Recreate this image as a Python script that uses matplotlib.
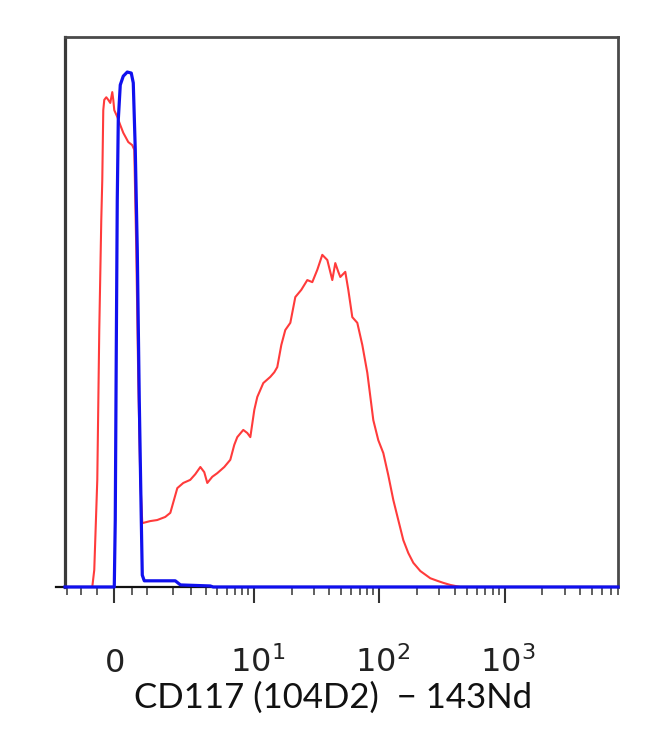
import matplotlib
matplotlib.use("Agg")
import matplotlib.pyplot as plt
from matplotlib import font_manager

# CD117 (104D2) - 143Nd histogram, arcsinh x axis, y = % of max
blue_x = [-1.6, 0.0, 0.028, 0.057, 0.085, 0.114, 0.171, 0.257, 0.373, 0.491, 0.551,
          0.612, 0.643, 0.674, 0.736, 0.800, 0.832, 0.897, 2.12, 2.38, 4.38, 4.63, 8000]
blue_y = [0, 0, 13.0, 46.0, 75.1, 90.7, 97.5, 99.2, 100, 99.8, 97.9,
          84.9, 75.1, 65.4, 36.3, 13.0, 2.3, 1.2, 1.2, 0.4, 0.2, 0, 0]

red_x = [-1.6, -0.643, -0.582, -0.491, -0.432, -0.373, -0.344, -0.315, -0.286, -0.228,
         -0.171, -0.114, -0.057, -0.028, 0.0, 0.085, 0.171, 0.257, 0.403, 0.521,
         0.582, 0.643, 0.705, 0.768, 0.832, 1.10, 1.35, 1.67, 1.89, 2.22,
         2.53, 2.93, 3.25, 3.60, 3.89, 4.13, 4.55, 5.01, 5.73, 6.42,
         6.92, 7.32, 8.19, 8.83, 9.34, 10.06, 10.63, 11.88, 13.52, 14.56,
         15.38, 16.57, 17.83, 19.56, 21.44, 23.93, 26.72, 29.30, 32.12, 35.20,
         38.60, 42.30, 44.69, 47.23, 49.00, 53.69, 56.75, 61.07, 66.94, 73.38,
         80.43, 89.79, 98.41, 107.9, 118.2, 129.6, 142.0, 155.7, 170.6, 187.0,
         212.7, 255.4, 290.5, 324.3, 368.7, 443.0, 8000]
red_y = [0, 0, 3.3, 20.8, 49.9, 71.3, 79.0, 92.6, 94.6, 95.1,
         94.6, 94.0, 96.1, 94.6, 92.6, 91.3, 89.7, 88.2, 86.4, 85.8,
         84.9, 65.4, 40.2, 20.8, 12.4, 12.8, 13.0, 13.6, 14.4, 19.2,
         20.2, 20.8, 21.9, 23.3, 22.3, 20.2, 21.4, 22.1, 23.3, 24.7,
         27.6, 29.1, 30.5, 29.9, 29.1, 34.4, 36.9, 39.6, 40.8, 41.7,
         42.7, 47.0, 49.9, 51.3, 56.3, 57.7, 59.6, 59.2, 61.6, 64.5,
         63.5, 59.6, 62.9, 61.2, 60.2, 61.2, 57.7, 52.4, 51.3, 47.0,
         41.6, 32.4, 28.5, 26.0, 21.7, 16.9, 13.0, 9.1, 6.6, 4.7,
         3.1, 1.7, 1.2, 0.8, 0.4, 0, 0]

major_ticks = [0, 10, 100, 1000]
major_labels = ["$0$", r"$\;10^{1}$", r"$\;10^{2}$", r"$\;10^{3}$"]
minor_ticks = ([-1.5, -1, -0.5, 0.5, 1] + list(range(2, 10)) + list(range(20, 100, 10))
               + list(range(200, 1000, 100)) + list(range(2000, 9000, 1000)))

x_label = "CD117 (104D2)  \u2212 143Nd"

installed = {f.name for f in font_manager.fontManager.ttflist}
tick_font = "Liberation Sans Narrow" if "Liberation Sans Narrow" in installed else "Liberation Sans"
plt.rcParams["mathtext.fontset"] = "custom"
plt.rcParams["mathtext.rm"] = tick_font
plt.rcParams["mathtext.it"] = tick_font
plt.rcParams["mathtext.default"] = "regular"

fig = plt.figure(figsize=(6.5, 7.33), dpi=100)
ax = fig.add_axes([0.1, 0.1992, 0.8508, 0.7503])
ax.set_xscale("asinh", linear_width=1.55)

ax.plot(red_x, red_y, color="#ff3b3b", lw=1.5, clip_on=False, zorder=3)
ax.plot(blue_x, blue_y, color="#1010ee", lw=2.3, clip_on=False, zorder=4)

ax.set_xlim(-1.6, 8000)
ax.set_ylim(0, 106.8)
ax.set_yticks([])

ax.set_xticks(major_ticks)
ax.set_xticklabels(major_labels, fontsize=23, color="#222222")
ax.set_xticks(minor_ticks, minor=True)
ax.tick_params(axis="x", which="major", direction="out", length=11.5, width=1.5,
               color="#333333", pad=50)
ax.tick_params(axis="x", which="minor", direction="out", length=6, width=1.2,
               color="#444444")
for lab in ax.get_xticklabels():
    lab.set_verticalalignment("baseline")

for side in ["top", "right"]:
    ax.spines[side].set_color("#4a4a4a")
    ax.spines[side].set_linewidth(2.0)
ax.spines["left"].set_color("#3a3a3a")
ax.spines["left"].set_linewidth(2.3)
ax.spines["bottom"].set_color("#111111")
ax.spines["bottom"].set_linewidth(1.6)
ax.spines["bottom"].set_bounds(-2.0, 8000)

ax.set_xlabel(x_label, fontsize=25, family=["Lato", "DejaVu Sans"], color="#111111")
ax.xaxis.set_label_coords(0.484, -0.172)

fig.savefig("out.png", dpi=100)
